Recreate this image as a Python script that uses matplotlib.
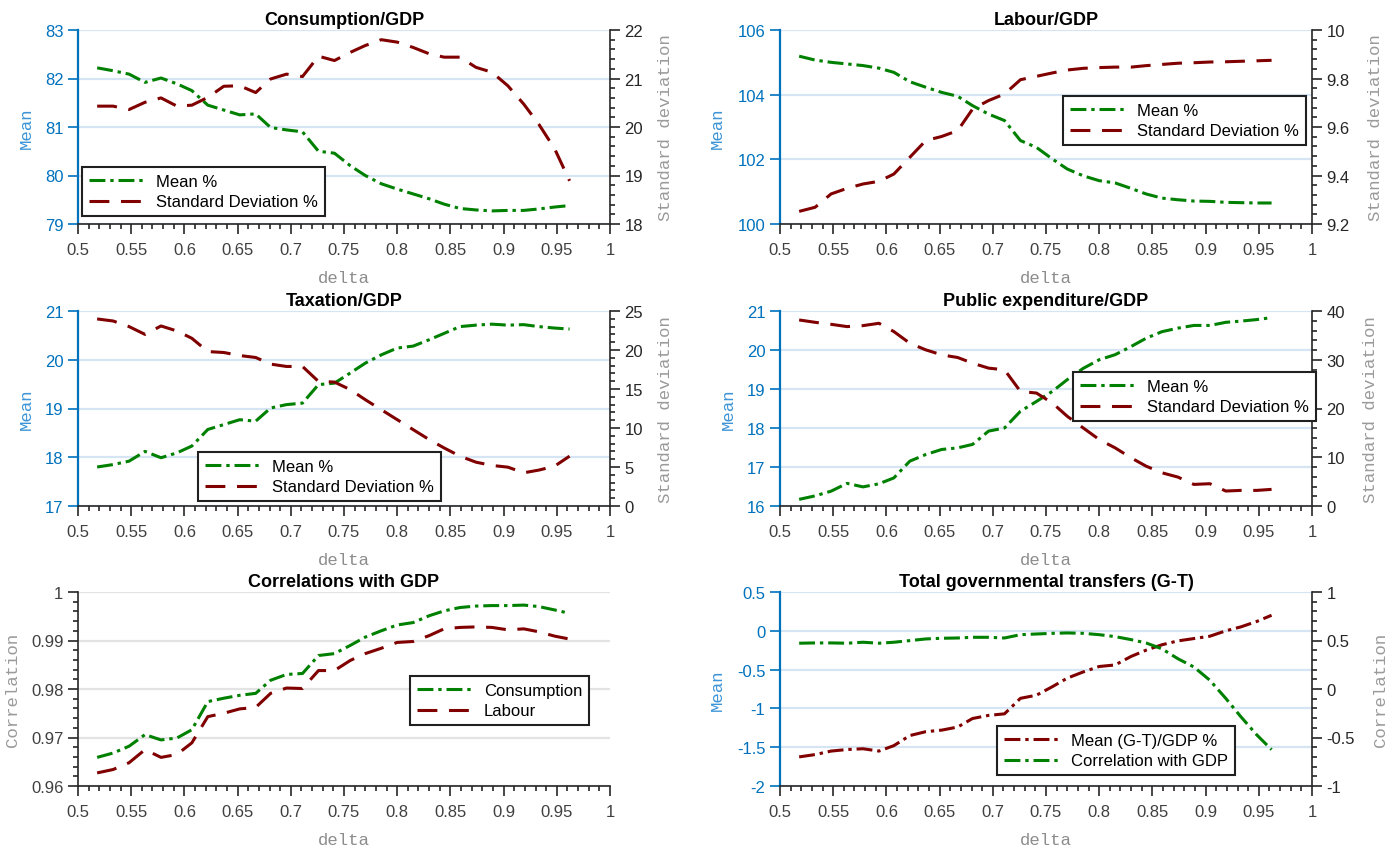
import numpy as np
import matplotlib
matplotlib.use("Agg")
import matplotlib.pyplot as plt
from matplotlib.ticker import MultipleLocator

plt.rcParams['font.family'] = ['Liberation Sans', 'DejaVu Sans']
plt.rcParams['axes.unicode_minus'] = False

# delta grid
delta = [0.518, 0.533, 0.548, 0.563, 0.578, 0.593, 0.607, 0.622, 0.637, 0.652,
         0.667, 0.681, 0.696, 0.711, 0.726, 0.741, 0.756, 0.770, 0.785, 0.800,
         0.815, 0.830, 0.844, 0.859, 0.874, 0.889, 0.904, 0.919, 0.933, 0.948, 0.962]

cons_mean = [82.22, 82.16, 82.09, 81.92, 82.01, 81.89, 81.75, 81.45, 81.35, 81.25,
             81.27, 80.99, 80.94, 80.90, 80.50, 80.46, 80.20, 80.00, 79.83, 79.72,
             79.62, 79.52, 79.41, 79.32, 79.29, 79.27, 79.28, 79.28, 79.31, 79.35, 79.38]
cons_std = [20.43, 20.43, 20.36, 20.51, 20.60, 20.43, 20.45, 20.61, 20.84, 20.85,
            20.71, 20.99, 21.09, 21.04, 21.46, 21.37, 21.54, 21.68, 21.80, 21.75,
            21.64, 21.51, 21.44, 21.44, 21.23, 21.13, 20.85, 20.47, 20.06, 19.55, 18.89]

lab_mean = [105.19, 105.07, 105.00, 104.95, 104.90, 104.82, 104.69, 104.40, 104.23, 104.07,
            103.95, 103.66, 103.40, 103.20, 102.58, 102.37, 102.01, 101.70, 101.49, 101.34,
            101.27, 101.10, 100.93, 100.80, 100.75, 100.71, 100.70, 100.67, 100.66, 100.65, 100.65]
lab_std = [9.252, 9.269, 9.324, 9.347, 9.365, 9.376, 9.406, 9.475, 9.544, 9.561,
           9.585, 9.674, 9.709, 9.736, 9.795, 9.809, 9.823, 9.835, 9.842, 9.845,
           9.847, 9.847, 9.853, 9.858, 9.863, 9.865, 9.868, 9.869, 9.871, 9.873, 9.875]

tax_mean = [17.80, 17.85, 17.92, 18.12, 17.99, 18.09, 18.23, 18.57, 18.67, 18.77,
            18.74, 19.01, 19.08, 19.11, 19.49, 19.52, 19.73, 19.93, 20.10, 20.24,
            20.28, 20.41, 20.54, 20.68, 20.71, 20.73, 20.71, 20.72, 20.68, 20.65, 20.63]
tax_std = [23.98, 23.72, 23.00, 22.00, 23.08, 22.44, 21.50, 19.80, 19.68, 19.29,
           19.04, 18.19, 17.89, 17.89, 15.97, 15.89, 14.91, 13.63, 12.35, 11.07,
           9.79, 8.52, 7.45, 6.39, 5.62, 5.20, 4.98, 4.26, 4.60, 5.11, 6.39]

pub_mean = [16.17, 16.26, 16.38, 16.58, 16.49, 16.57, 16.72, 17.15, 17.32, 17.45,
            17.49, 17.58, 17.92, 18.00, 18.43, 18.68, 18.94, 19.24, 19.53, 19.75,
            19.88, 20.09, 20.30, 20.47, 20.56, 20.63, 20.63, 20.71, 20.74, 20.78, 20.83]
pub_std = [38.16, 37.68, 37.27, 36.80, 37.00, 37.48, 35.78, 33.39, 32.03, 31.00,
           30.46, 29.30, 28.28, 27.94, 23.50, 23.17, 21.12, 18.40, 16.01, 13.63,
           11.92, 9.88, 8.18, 6.81, 5.93, 4.43, 4.57, 3.07, 3.20, 3.20, 3.41]

corr_cons = [0.9659, 0.9668, 0.9682, 0.9706, 0.9695, 0.9699, 0.9716, 0.9774, 0.9781, 0.9787,
             0.9791, 0.9818, 0.9830, 0.9832, 0.9869, 0.9873, 0.9890, 0.9907, 0.9920, 0.9932,
             0.9937, 0.9951, 0.9961, 0.9968, 0.9971, 0.9972, 0.9972, 0.9973, 0.9970, 0.9963, 0.9956]
corr_lab = [0.9627, 0.9634, 0.9648, 0.9675, 0.9659, 0.9665, 0.9689, 0.9743, 0.9750, 0.9759,
            0.9762, 0.9791, 0.9802, 0.9801, 0.9838, 0.9838, 0.9859, 0.9873, 0.9884, 0.9896,
            0.9898, 0.9910, 0.9924, 0.9927, 0.9928, 0.9927, 0.9922, 0.9924, 0.9918, 0.9909, 0.9903]

gt_mean = [-1.625, -1.595, -1.55, -1.53, -1.52, -1.55, -1.48, -1.35, -1.30, -1.28,
           -1.24, -1.13, -1.09, -1.07, -0.87, -0.83, -0.72, -0.61, -0.53, -0.46,
           -0.44, -0.33, -0.25, -0.18, -0.13, -0.10, -0.07, 0.00, 0.05, 0.12, 0.20]
gt_corr = [0.472, 0.475, 0.475, 0.472, 0.482, 0.472, 0.482, 0.499, 0.516, 0.523,
           0.526, 0.533, 0.533, 0.526, 0.560, 0.567, 0.574, 0.578, 0.574, 0.560,
           0.540, 0.509, 0.475, 0.414, 0.312, 0.227, 0.090, -0.097, -0.284, -0.472, -0.625]

xticks = [0.5, 0.55, 0.6, 0.65, 0.7, 0.75, 0.8, 0.85, 0.9, 0.95, 1.0]
xticklabels = ['0.5', '0.55', '0.6', '0.65', '0.7', '0.75', '0.8', '0.85', '0.9', '0.95', '1']

GREEN = '#008000'
RED = '#800000'
BLUE = '#0072BD'
DARK = '#262626'
MONO = ['Liberation Mono', 'DejaVu Sans Mono']
DASH = (0, (6.5, 3.8))
DASHDOT = (0, (5.2, 1.6, 1.1, 1.6))
TICK_FS = 12
LW = 2.2

fig = plt.figure(figsize=(13.98, 8.53), dpi=100)

W, H = 1398, 853


def make_axes(px_left, px_top, px_bottom):
    return fig.add_axes([px_left / W, 1 - px_bottom / H, 532 / W, (px_bottom - px_top) / H])


def style_x(ax):
    ax.set_xlim(0.5, 1)
    ax.set_xticks(xticks)
    ax.set_xticklabels(xticklabels)
    ax.xaxis.set_minor_locator(MultipleLocator(0.01))
    ax.tick_params(axis='x', which='major', direction='out', length=7, width=1.2,
                   colors=DARK, labelcolor='#404040', labelsize=TICK_FS, pad=6)
    ax.tick_params(axis='x', which='minor', direction='out', length=3.5, width=1.2, colors=DARK)
    ax.spines['bottom'].set_color(DARK)
    ax.spines['bottom'].set_linewidth(1.2)
    ax.spines['top'].set_visible(False)
    ax.set_xlabel('delta', family=MONO, fontsize=12.5, color='#8c8c8c')
    ax.xaxis.set_label_coords(0.5, -0.235)


def add_legend(ax, handles, labels, px_x, px_y):
    leg = ax.legend(handles, labels, loc='upper left',
                    bbox_to_anchor=(px_x / W, 1 - px_y / H), bbox_transform=fig.transFigure,
                    borderaxespad=0, fontsize=TICK_FS, handlelength=3.4, handletextpad=0.6,
                    labelspacing=0.32, borderpad=0.42, fancybox=False, framealpha=1)
    leg.get_frame().set_edgecolor('#202020')
    leg.get_frame().set_linewidth(1.5)
    return leg


def fmt_plain(v):
    s = ('%.2f' % v).rstrip('0').rstrip('.')
    return '0' if s in ('-0', '') else s


def dual_panel(px_left, px_top, px_bottom, title, left_vals, right_vals,
               left_lim, left_step, right_lim, right_step, right_minor,
               left_style, right_style, left_color, right_color,
               left_name, right_name, ylabel_l, ylabel_r, lab_l_x, lab_r_x, leg_xy):
    ax = make_axes(px_left, px_top, px_bottom)
    ax2 = ax.twinx()
    ax.set_zorder(1)
    ax2.set_zorder(2)
    ax2.patch.set_visible(False)

    l1, = ax.plot(delta, left_vals, linestyle=left_style, color=left_color, lw=LW)
    l2, = ax2.plot(delta, right_vals, linestyle=right_style, color=right_color, lw=LW)

    style_x(ax)
    ax.set_ylim(*left_lim)
    ax.set_yticks(np.arange(left_lim[0], left_lim[1] + left_step / 2, left_step))
    ax.set_yticklabels([fmt_plain(v) for v in ax.get_yticks()])
    ax.tick_params(axis='y', which='major', direction='out', length=7, width=1.2,
                   colors=BLUE, labelsize=TICK_FS)
    ax.spines['left'].set_color(BLUE)
    ax.spines['left'].set_linewidth(1.6)
    ax.spines['right'].set_visible(False)
    ax.grid(axis='y', color='#d5e5f3', lw=1.6)
    ax.set_axisbelow(True)
    ax.set_ylabel(ylabel_l, family=MONO, fontsize=12.5, color='#3d94d6')
    ax.yaxis.set_label_coords(lab_l_x, 0.5)

    ax2.set_ylim(*right_lim)
    ax2.set_yticks(np.arange(right_lim[0], right_lim[1] + right_step / 2, right_step))
    ax2.set_yticklabels([fmt_plain(v) for v in ax2.get_yticks()])
    ax2.yaxis.set_minor_locator(MultipleLocator(right_minor))
    ax2.tick_params(axis='y', which='major', direction='out', length=7, width=1.2,
                    colors=DARK, labelsize=TICK_FS)
    ax2.tick_params(axis='y', which='minor', direction='out', length=3.5, width=1.2, colors=DARK)
    for s in ('left', 'top', 'bottom'):
        ax2.spines[s].set_visible(False)
    ax2.spines['right'].set_color(DARK)
    ax2.spines['right'].set_linewidth(1.2)
    ax2.set_ylabel(ylabel_r, family=MONO, fontsize=12.5, color='#9a9a9a')
    ax2.yaxis.set_label_coords(lab_r_x, 0.5)

    ax.set_title(title, fontsize=13, fontweight='bold', pad=4)
    add_legend(ax2, [l1, l2], [left_name, right_name], *leg_xy)
    return ax, ax2


dual_panel(78, 31, 225, 'Consumption/GDP', cons_mean, cons_std,
           (79, 83), 1, (18, 22), 1, 0.2, DASHDOT, DASH, GREEN, RED,
           'Mean %', 'Standard Deviation %', 'Mean', 'Standard deviation',
           -0.083, 1.090, (82, 168))

dual_panel(780, 31, 225, 'Labour/GDP', lab_mean, lab_std,
           (100, 106), 2, (9.2, 10), 0.2, 0.04, DASHDOT, DASH, GREEN, RED,
           'Mean %', 'Standard Deviation %', 'Mean', 'Standard deviation',
           -0.103, 1.105, (1063, 97))

dual_panel(78, 312, 507, 'Taxation/GDP', tax_mean, tax_std,
           (17, 21), 1, (0, 25), 5, 1, DASHDOT, DASH, GREEN, RED,
           'Mean %', 'Standard Deviation %', 'Mean', 'Standard deviation',
           -0.083, 1.090, (198, 453))

dual_panel(780, 312, 507, 'Public expenditure/GDP', pub_mean, pub_std,
           (16, 21), 1, (0, 40), 10, 2, DASHDOT, DASH, GREEN, RED,
           'Mean %', 'Standard Deviation %', 'Mean', 'Standard deviation',
           -0.083, 1.096, (1073, 373))

dual_panel(780, 593, 787, 'Total governmental transfers (G-T)', gt_mean, gt_corr,
           (-2, 0.5), 0.5, (-1, 1), 0.5, 0.1, DASHDOT, DASHDOT, RED, GREEN,
           'Mean (G-T)/GDP %', 'Correlation with GDP', 'Mean', 'Correlation',
           -0.103, 1.115, (997, 727))

# correlations panel, single axis
ax = make_axes(78, 593, 787)
c1, = ax.plot(delta, corr_cons, linestyle=DASHDOT, color=GREEN, lw=LW)
c2, = ax.plot(delta, corr_lab, linestyle=DASH, color=RED, lw=LW)
style_x(ax)
ax.set_ylim(0.96, 1.0)
ax.set_yticks([0.96, 0.97, 0.98, 0.99, 1.0])
ax.set_yticklabels(['0.96', '0.97', '0.98', '0.99', '1'])
ax.yaxis.set_minor_locator(MultipleLocator(0.002))
ax.tick_params(axis='y', which='major', direction='out', length=7, width=1.2,
               colors=DARK, labelcolor='#404040', labelsize=TICK_FS)
ax.tick_params(axis='y', which='minor', direction='out', length=3.5, width=1.2, colors=DARK)
ax.spines['left'].set_color(DARK)
ax.spines['left'].set_linewidth(1.2)
ax.spines['right'].set_visible(False)
ax.grid(axis='y', color='#e3e3e3', lw=1.6)
ax.set_axisbelow(True)
ax.set_ylabel('Correlation', family=MONO, fontsize=12.5, color='#9a9a9a')
ax.yaxis.set_label_coords(-0.109, 0.5)
ax.set_title('Correlations with GDP', fontsize=13, fontweight='bold', pad=4)
add_legend(ax, [c1, c2], ['Consumption', 'Labour'], 410, 677)

fig.savefig('out.png', dpi=100)
